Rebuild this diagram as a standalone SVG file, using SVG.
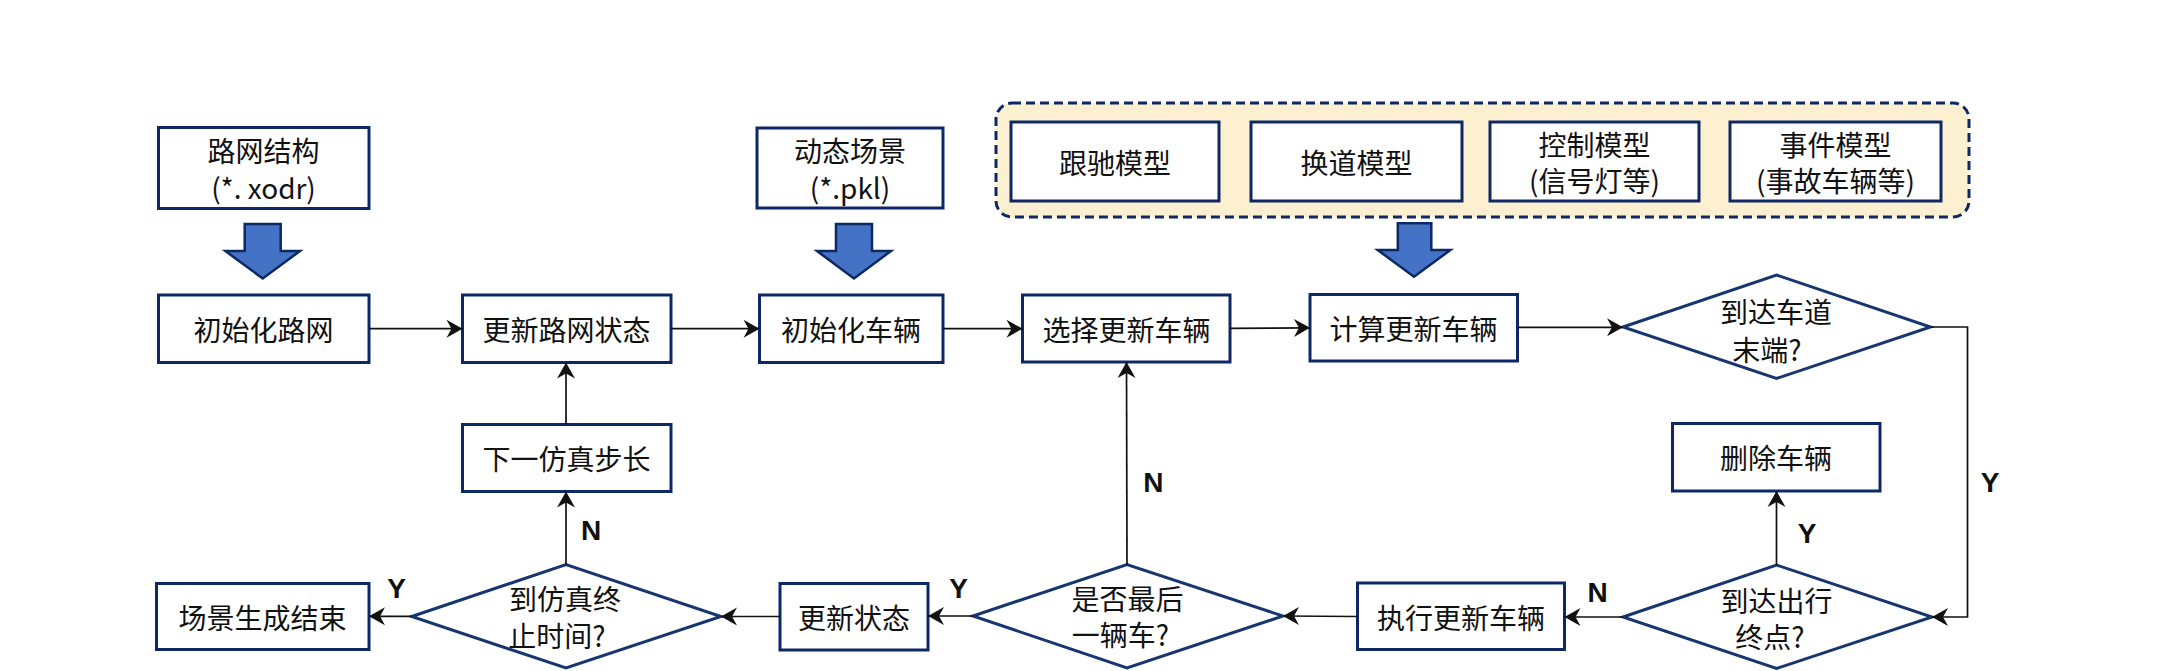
<svg xmlns="http://www.w3.org/2000/svg" width="2162" height="671" viewBox="0 0 2162 671">
<style>
.box{fill:#ffffff;stroke:#0e2865;stroke-width:3}
.dia{fill:#ffffff;stroke:#17366f;stroke-width:3}
.t{font-family:"Noto Sans CJK SC","Noto Sans",sans-serif;font-size:28px;fill:#111111;text-anchor:middle;dominant-baseline:central}
.lbl{font-family:"Liberation Sans",Arial,sans-serif;font-size:28px;font-weight:bold;fill:#111111;text-anchor:middle}
.ln{fill:none;stroke:#111111;stroke-width:1.7;marker-end:url(#arr)}
.big{fill:#4472c4;stroke:#0e2865;stroke-width:2.5;stroke-linejoin:miter}
.grp{fill:#fdf0d0;stroke:#0e2865;stroke-width:3;stroke-dasharray:9 5}
</style>
<defs>
<marker id="arr" viewBox="-17 -10 18 20" refX="0" refY="0" markerWidth="18" markerHeight="20" markerUnits="userSpaceOnUse" orient="auto">
<path d="M0,0 L-16,-9 L-11,0 L-16,9 Z" fill="#111111"/>
</marker>
</defs>
<rect width="2162" height="671" fill="#ffffff"/>

<g id="model-group">
<rect class="grp" x="996" y="103" width="973" height="114" rx="16" ry="16"/>
</g>

<g id="n-road-struct">
<rect class="box" x="158.5" y="127.5" width="210.5" height="81"/>
<text class="t" x="263.5" y="150">路网结构</text>
<text class="t" x="263.5" y="186.5">(*. xodr)</text>
</g>
<g id="n-dyn-scene">
<rect class="box" x="757" y="128" width="186" height="80"/>
<text class="t" x="850" y="150">动态场景</text>
<text class="t" x="850" y="186.5">(*.pkl)</text>
</g>
<g id="n-follow">
<rect class="box" x="1011" y="122" width="208" height="79"/>
<text class="t" x="1115" y="161.5">跟驰模型</text>
</g>
<g id="n-lane">
<rect class="box" x="1251" y="122" width="211" height="79"/>
<text class="t" x="1356.5" y="161.5">换道模型</text>
</g>
<g id="n-control">
<rect class="box" x="1490" y="122" width="209" height="79"/>
<text class="t" x="1594.5" y="143.5">控制模型</text>
<text class="t" x="1594.5" y="180">(信号灯等)</text>
</g>
<g id="n-event">
<rect class="box" x="1730" y="122" width="211" height="79"/>
<text class="t" x="1835.5" y="143.5">事件模型</text>
<text class="t" x="1835.5" y="180">(事故车辆等)</text>
</g>

<g id="big-arrows">
<polygon class="big" points="244.7,224 280.7,224 280.7,251 300,251 262.7,278.5 225.4,251 244.7,251"/>
<polygon class="big" points="836,224 872,224 872,251 891,251 854,278.5 817,251 836,251"/>
<polygon class="big" points="1397.8,223.3 1431.3,223.3 1431.3,250 1450.4,250 1414,276.7 1377.7,250 1397.8,250"/>
</g>

<g id="n-init-road">
<rect class="box" x="158.5" y="295" width="210.5" height="67.5"/>
<text class="t" x="263.5" y="329">初始化路网</text>
</g>
<g id="n-update-road">
<rect class="box" x="462.5" y="295" width="208.5" height="67.5"/>
<text class="t" x="566.5" y="329">更新路网状态</text>
</g>
<g id="n-init-veh">
<rect class="box" x="759.5" y="295" width="183.5" height="67.5"/>
<text class="t" x="851" y="329">初始化车辆</text>
</g>
<g id="n-select">
<rect class="box" x="1022.5" y="295" width="207.5" height="67"/>
<text class="t" x="1126.5" y="329">选择更新车辆</text>
</g>
<g id="n-calc">
<rect class="box" x="1310" y="294.5" width="207.5" height="66.5"/>
<text class="t" x="1413.5" y="328">计算更新车辆</text>
</g>
<g id="n-lane-end">
<polygon class="dia" points="1623,327 1776.5,275 1930.5,327 1776.5,378.5"/>
<text class="t" x="1776" y="311">到达车道</text>
<text class="t" x="1767" y="349">末端?</text>
</g>

<g id="n-next-step">
<rect class="box" x="462.5" y="424.5" width="208.5" height="67"/>
<text class="t" x="566.5" y="458">下一仿真步长</text>
</g>
<g id="n-delete">
<rect class="box" x="1672.5" y="423.5" width="207.5" height="67.5"/>
<text class="t" x="1776" y="457">删除车辆</text>
</g>

<g id="n-end">
<rect class="box" x="156.5" y="583.5" width="212.5" height="66"/>
<text class="t" x="262.5" y="617">场景生成结束</text>
</g>
<g id="n-sim-end">
<polygon class="dia" points="411.7,616.5 566,564.5 721,616.5 566,668"/>
<text class="t" x="565" y="598">到仿真终</text>
<text class="t" x="557" y="634.5">止时间?</text>
</g>
<g id="n-update-state">
<rect class="box" x="780" y="583.5" width="148" height="66.5"/>
<text class="t" x="854" y="617">更新状态</text>
</g>
<g id="n-last">
<polygon class="dia" points="973,616 1127,564.5 1283,616 1127,668"/>
<text class="t" x="1127.5" y="597.5">是否最后</text>
<text class="t" x="1120.5" y="634">一辆车?</text>
</g>
<g id="n-exec">
<rect class="box" x="1357.5" y="583" width="207" height="66.5"/>
<text class="t" x="1461" y="616.5">执行更新车辆</text>
</g>
<g id="n-dest">
<polygon class="dia" points="1623,617 1776.5,565 1932,617 1776.5,668.5"/>
<text class="t" x="1776.5" y="599.5">到达出行</text>
<text class="t" x="1770" y="636">终点?</text>
</g>

<g id="connectors">
<path class="ln" d="M369,328.7 L462.5,328.7"/>
<path class="ln" d="M671,328.7 L759.5,328.7"/>
<path class="ln" d="M943,328.7 L1022.5,328.7"/>
<path class="ln" d="M1230,328.3 L1310,327.8"/>
<path class="ln" d="M1517.5,327.3 L1623,327.3"/>
<path class="ln" d="M1930.5,327 L1967.5,327 L1967.5,617 L1932,617"/>
<path class="ln" d="M1776.5,565 L1776.5,491"/>
<path class="ln" d="M1623,617 L1564.5,617"/>
<path class="ln" d="M1357.5,616.5 L1283,616"/>
<path class="ln" d="M1127,564.5 L1126.5,362"/>
<path class="ln" d="M973,616 L928,616"/>
<path class="ln" d="M780,616.5 L721,616.5"/>
<path class="ln" d="M411.7,616.3 L369,616.3"/>
<path class="ln" d="M566,564.5 L566,491.5"/>
<path class="ln" d="M566,424.5 L566,362.5"/>
</g>

<g id="labels">
<text class="lbl" x="591" y="540">N</text>
<text class="lbl" x="396.5" y="598">Y</text>
<text class="lbl" x="958.6" y="598">Y</text>
<text class="lbl" x="1153.3" y="491.7">N</text>
<text class="lbl" x="1597.5" y="601.7">N</text>
<text class="lbl" x="1807" y="543.3">Y</text>
<text class="lbl" x="1990" y="491.7">Y</text>
</g>
</svg>
